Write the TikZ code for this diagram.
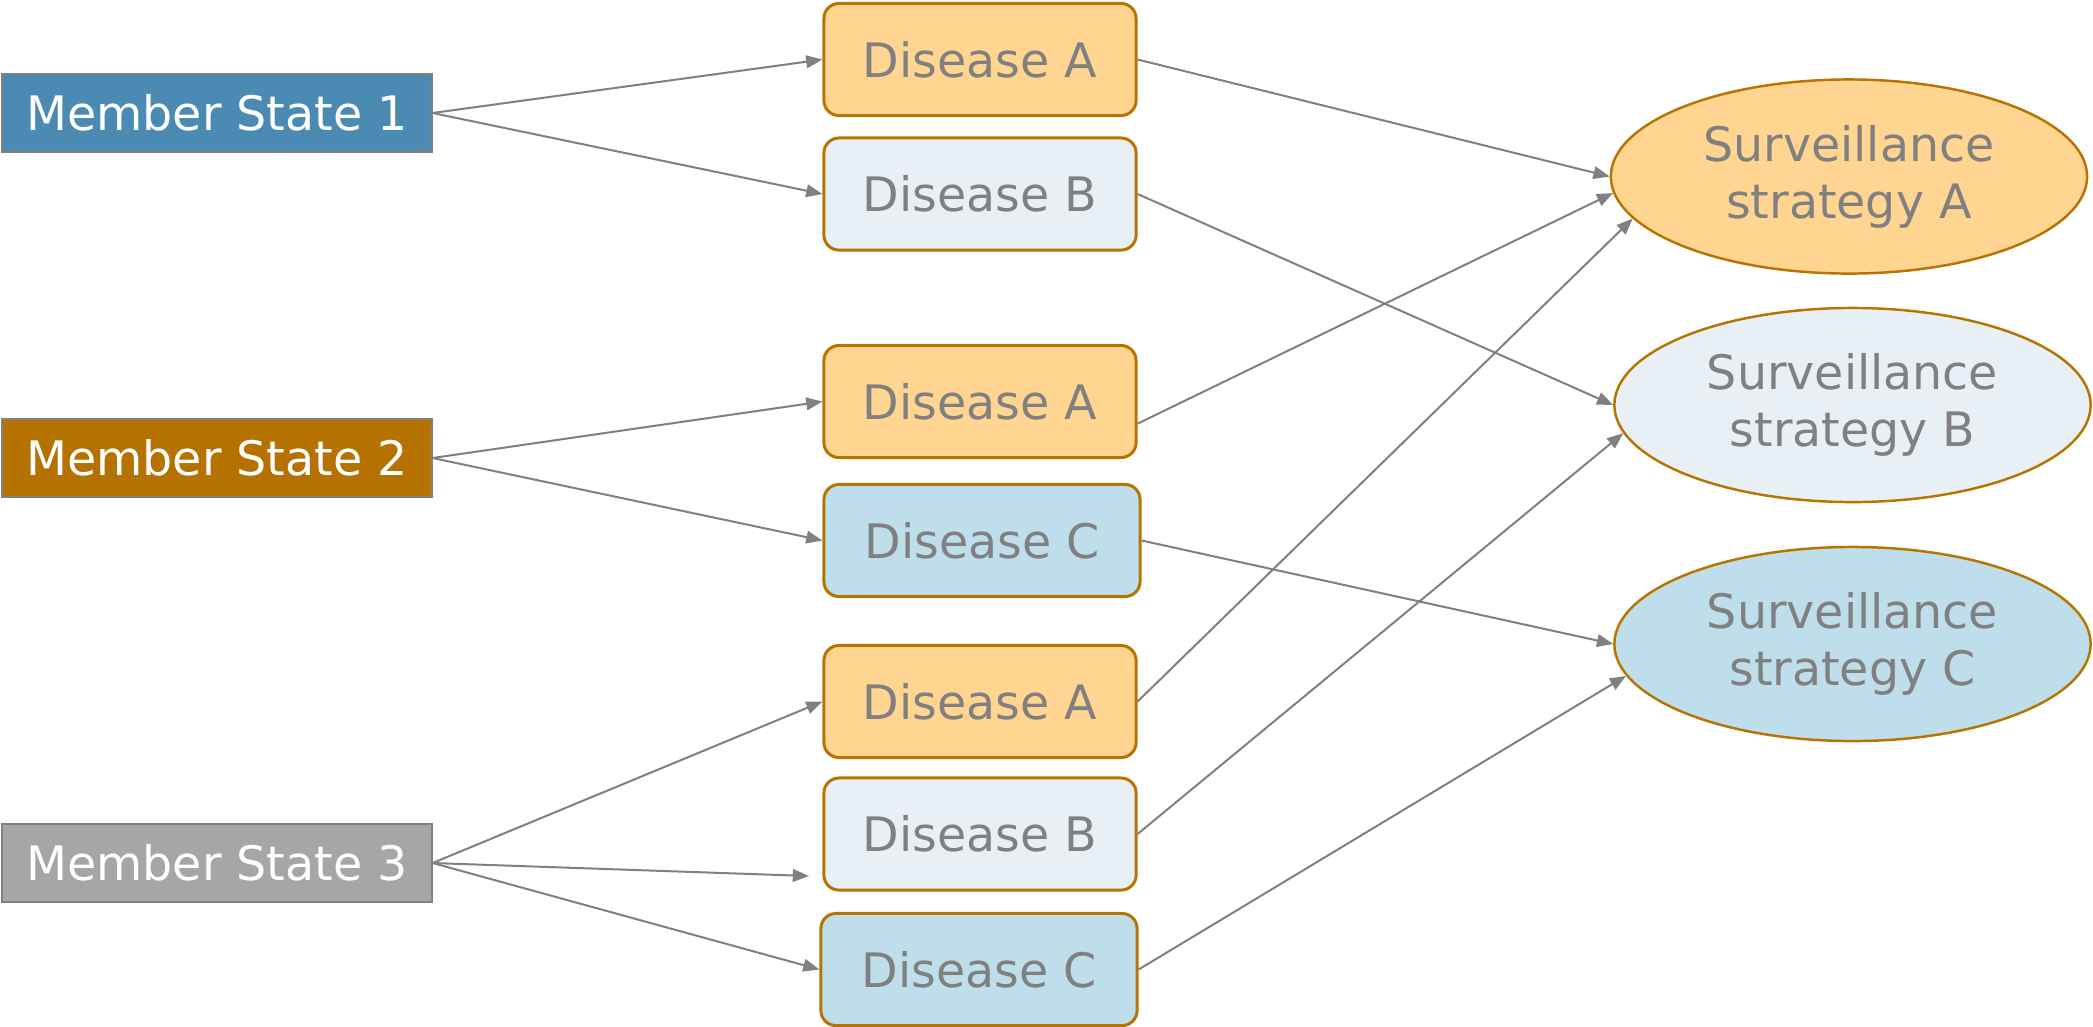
\documentclass[tikz,border=0pt]{standalone}
\usepackage{fontspec}
\setmainfont{DejaVu Sans}
\usetikzlibrary{arrows.meta,shapes.geometric}
\definecolor{msone}{RGB}{75,139,179}
\definecolor{mstwo}{RGB}{181,114,0}
\definecolor{msthree}{RGB}{166,166,166}
\definecolor{msborder}{RGB}{128,128,128}
\definecolor{disA}{RGB}{255,213,145}
\definecolor{disB}{RGB}{232,240,246}
\definecolor{disC}{RGB}{189,222,234}
\definecolor{obrd}{RGB}{183,116,0}
\definecolor{txtgray}{RGB}{128,128,128}
\tikzset{
  msbox/.style={draw=msborder, line width=0.55pt, minimum width=4.29cm, minimum height=0.78cm, inner sep=0pt, text=white, font=\fontsize{13.5}{16.2}\selectfont},
  disbox/.style={draw=obrd, line width=0.85pt, rounded corners=0.15cm, minimum width=3.12cm, minimum height=1.12cm, inner sep=0pt, text=txtgray, font=\fontsize{13.5}{16.2}\selectfont},
  strat/.style={ellipse, draw=obrd, line width=0.7pt, minimum width=4.76cm, minimum height=1.94cm, inner sep=0pt, text=txtgray, align=center, font=\fontsize{13.5}{16.2}\selectfont},
  conn/.style={draw=txtgray, line width=0.57pt, -{Triangle[length=4.6pt,width=3.6pt]}}
}
\begin{document}
\begin{tikzpicture}[x=0.01cm,y=-0.01cm]
\useasboundingbox (0,0) rectangle (2093,1026);
% member states
\node[msbox, fill=msone] (ms1) at (217,113) {Member State 1};
\node[msbox, fill=mstwo] (ms2) at (217,458) {Member State 2};
\node[msbox, fill=msthree] (ms3) at (217,863) {Member State 3};
% diseases
\node[disbox, fill=disA] (d1a) at (980,59.5) {Disease A};
\node[disbox, fill=disB] (d1b) at (980,194) {Disease B};
\node[disbox, fill=disA] (d2a) at (980,401.5) {Disease A};
\node[disbox, fill=disC, minimum width=3.16cm] (d2c) at (982,540.5) {Disease C};
\node[disbox, fill=disA] (d3a) at (980,701.5) {Disease A};
\node[disbox, fill=disB] (d3b) at (980,834) {Disease B};
\node[disbox, fill=disC, minimum width=3.16cm] (d3c) at (979,969.5) {Disease C};
% strategies
\node[strat, fill=disA] (sa) at (1849,176.5) {Surveillance\\strategy A};
\node[strat, fill=disB] (sb) at (1852.5,405) {Surveillance\\strategy B};
\node[strat, fill=disC] (sc) at (1852.5,644) {Surveillance\\strategy C};
\coordinate (free) at (809,876);
% left connectors
\draw[conn] (ms1.east) -- (d1a.west);
\draw[conn] (ms1.east) -- (d1b.west);
\draw[conn] (ms2.east) -- (d2a.west);
\draw[conn] (ms2.east) -- (d2c.west);
\draw[conn] (ms3.east) -- (d3a.west);
\draw[conn] (ms3.east) -- (free);
\draw[conn] (ms3.east) -- (d3c.west);
% right connectors
\draw[conn] (d1a.east) -- (sa.west);
\draw[conn] (d1b.east) -- (sb.west);
\draw[conn] (d2a.-8.6) -- (sa.184.5);
\draw[conn] (d2c.east) -- (sc.west);
\draw[conn] (d3a.east) -- (sa.191.2);
\draw[conn] (d3b.east) -- (sb.187.2);
\draw[conn] (d3c.east) -- (sc.188.2);
\end{tikzpicture}
\end{document}
